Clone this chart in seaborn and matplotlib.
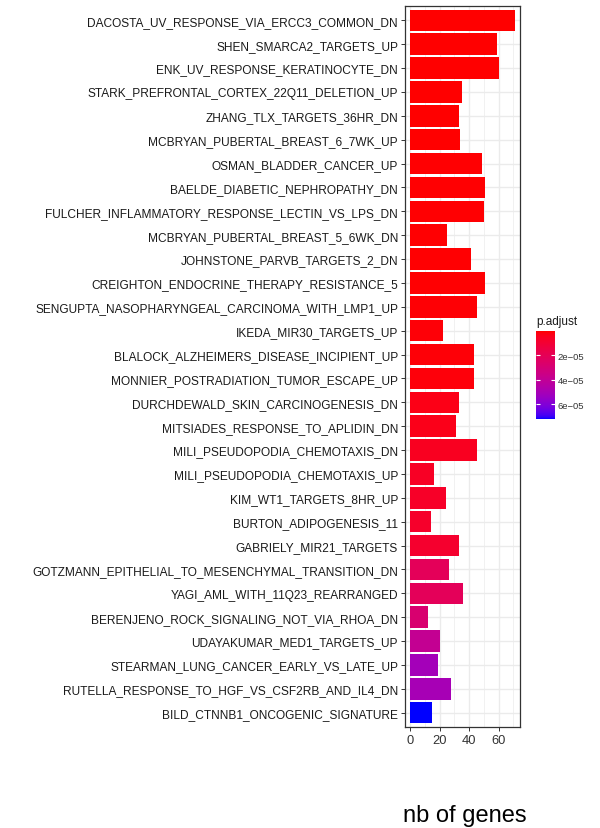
import numpy as np
import pandas as pd
import matplotlib
matplotlib.use("Agg")
import matplotlib.pyplot as plt
from matplotlib.colors import ListedColormap, Normalize
import matplotlib.colorbar as mcolorbar
import seaborn as sns

terms = [
    "DACOSTA_UV_RESPONSE_VIA_ERCC3_COMMON_DN",
    "SHEN_SMARCA2_TARGETS_UP",
    "ENK_UV_RESPONSE_KERATINOCYTE_DN",
    "STARK_PREFRONTAL_CORTEX_22Q11_DELETION_UP",
    "ZHANG_TLX_TARGETS_36HR_DN",
    "MCBRYAN_PUBERTAL_BREAST_6_7WK_UP",
    "OSMAN_BLADDER_CANCER_UP",
    "BAELDE_DIABETIC_NEPHROPATHY_DN",
    "FULCHER_INFLAMMATORY_RESPONSE_LECTIN_VS_LPS_DN",
    "MCBRYAN_PUBERTAL_BREAST_5_6WK_DN",
    "JOHNSTONE_PARVB_TARGETS_2_DN",
    "CREIGHTON_ENDOCRINE_THERAPY_RESISTANCE_5",
    "SENGUPTA_NASOPHARYNGEAL_CARCINOMA_WITH_LMP1_UP",
    "IKEDA_MIR30_TARGETS_UP",
    "BLALOCK_ALZHEIMERS_DISEASE_INCIPIENT_UP",
    "MONNIER_POSTRADIATION_TUMOR_ESCAPE_UP",
    "DURCHDEWALD_SKIN_CARCINOGENESIS_DN",
    "MITSIADES_RESPONSE_TO_APLIDIN_DN",
    "MILI_PSEUDOPODIA_CHEMOTAXIS_DN",
    "MILI_PSEUDOPODIA_CHEMOTAXIS_UP",
    "KIM_WT1_TARGETS_8HR_UP",
    "BURTON_ADIPOGENESIS_11",
    "GABRIELY_MIR21_TARGETS",
    "GOTZMANN_EPITHELIAL_TO_MESENCHYMAL_TRANSITION_DN",
    "YAGI_AML_WITH_11Q23_REARRANGED",
    "BERENJENO_ROCK_SIGNALING_NOT_VIA_RHOA_DN",
    "UDAYAKUMAR_MED1_TARGETS_UP",
    "STEARMAN_LUNG_CANCER_EARLY_VS_LATE_UP",
    "RUTELLA_RESPONSE_TO_HGF_VS_CSF2RB_AND_IL4_DN",
    "BILD_CTNNB1_ONCOGENIC_SIGNATURE",
]
gene_counts = [71, 59, 60, 35, 33, 34, 49, 51, 50, 25,
               41, 51, 45, 22, 43, 43, 33, 31, 45, 16,
               24, 14, 33, 26, 36, 12, 20, 19, 28, 15]
p_adjust = [1.0e-7, 1.5e-7, 2.0e-7, 2.5e-7, 3.0e-7, 3.5e-7, 4.0e-7, 4.5e-7, 5.0e-7, 5.5e-7,
            6.0e-7, 6.5e-7, 7.0e-7, 1.0e-6, 1.2e-6, 1.5e-6, 3.0e-6, 3.5e-6, 5.0e-6, 6.0e-6,
            7.0e-6, 7.5e-6, 8.5e-6, 2.1e-5, 2.1e-5, 2.8e-5, 3.9e-5, 5.1e-5, 5.0e-5, 7.2e-5]
cbar_ticks = [2e-5, 4e-5, 6e-5]
cbar_labels = ["2e\u221205", "4e\u221205", "6e\u221205"]
x_ticks = [0, 20, 40, 60]


# red -> blue gradient interpolated in CIELAB space
def _srgb_to_lab(rgb):
    rgb = np.asarray(rgb, float)
    lin = np.where(rgb <= 0.04045, rgb / 12.92, ((rgb + 0.055) / 1.055) ** 2.4)
    m = np.array([[0.4124564, 0.3575761, 0.1804375],
                  [0.2126729, 0.7151522, 0.0721750],
                  [0.0193339, 0.1191920, 0.9503041]])
    xyz = m @ lin / np.array([0.95047, 1.0, 1.08883])
    f = np.where(xyz > 0.008856, np.cbrt(xyz), 7.787 * xyz + 16 / 116)
    return np.array([116 * f[1] - 16, 500 * (f[0] - f[1]), 200 * (f[1] - f[2])])


def _lab_to_srgb(lab):
    L, a, b = lab
    fy = (L + 16) / 116
    fx = fy + a / 500
    fz = fy - b / 200
    f = np.array([fx, fy, fz])
    xyz = np.where(f ** 3 > 0.008856, f ** 3, (f - 16 / 116) / 7.787)
    xyz = xyz * np.array([0.95047, 1.0, 1.08883])
    minv = np.array([[3.2404542, -1.5371385, -0.4985314],
                     [-0.9692660, 1.8760108, 0.0415560],
                     [0.0556434, -0.2040259, 1.0572252]])
    lin = minv @ xyz
    lin = np.clip(lin, 0, 1)
    rgb = np.where(lin <= 0.0031308, 12.92 * lin, 1.055 * lin ** (1 / 2.4) - 0.055)
    return np.clip(rgb, 0, 1)


lab_low = _srgb_to_lab([1, 0, 0])
lab_high = _srgb_to_lab([0, 0, 1])
ramp = [_lab_to_srgb(lab_low + (lab_high - lab_low) * t) for t in np.linspace(0, 1, 256)]
cmap = ListedColormap(ramp)
norm = Normalize(vmin=min(p_adjust), vmax=max(p_adjust))

df = pd.DataFrame({"term": terms, "count": gene_counts, "p.adjust": p_adjust})
bar_colors = [cmap(norm(p)) for p in df["p.adjust"]]

plt.rcParams["font.family"] = ["Liberation Sans", "DejaVu Sans"]
fig = plt.figure(figsize=(6.0, 8.29), dpi=100)
ax = fig.add_axes([0.675, 0.1218, 0.1917, 0.8698])

sns.barplot(data=df, x="count", y="term", hue="term", palette=bar_colors,
            legend=False, width=0.9, saturation=1, ax=ax, orient="h")

ax.set_xlim(-3.55, 74.55)
ax.set_ylim(len(terms) - 0.4, -0.6)
ax.set_xticks(x_ticks)
ax.set_xticks([10, 30, 50, 70], minor=True)
ax.set_axisbelow(True)
ax.grid(which="major", color="#EBEBEB", linewidth=1.0)
ax.grid(which="minor", axis="x", color="#EBEBEB", linewidth=0.5)
ax.set_xlabel("")
ax.set_ylabel("")
for sp in ax.spines.values():
    sp.set_color("#333333")
    sp.set_linewidth(0.9)
ax.tick_params(axis="y", labelsize=8.55, length=3, width=0.7, color="#333333",
               labelcolor="#1A1A1A", pad=2)
ax.tick_params(axis="x", which="major", labelsize=9.3, length=3, width=0.7,
               color="#333333", labelcolor="#333333", pad=2)
ax.tick_params(axis="x", which="minor", length=0)

fig.text(0.775, 0.0088, "nb of genes", fontsize=17, ha="center", va="baseline",
         color="black")

# continuous legend for adjusted p-value
cax = fig.add_axes([0.8933, 0.4934, 0.0317, 0.1062])
cb = mcolorbar.ColorbarBase(cax, cmap=cmap, norm=norm, orientation="vertical")
cb.outline.set_visible(False)
cax.invert_yaxis()
cb.set_ticks(cbar_ticks)
cb.set_ticklabels(cbar_labels)
cax.tick_params(which="both", direction="in", color="white", length=3, width=0.8,
                left=True, right=True, labelsize=6.8, labelcolor="#333333", pad=2)
cax.minorticks_off()
fig.text(0.8933, 0.6045, "p.adjust", fontsize=8.5, ha="left", va="bottom", color="#1A1A1A")

fig.savefig("out.png", dpi=100, facecolor="white")
